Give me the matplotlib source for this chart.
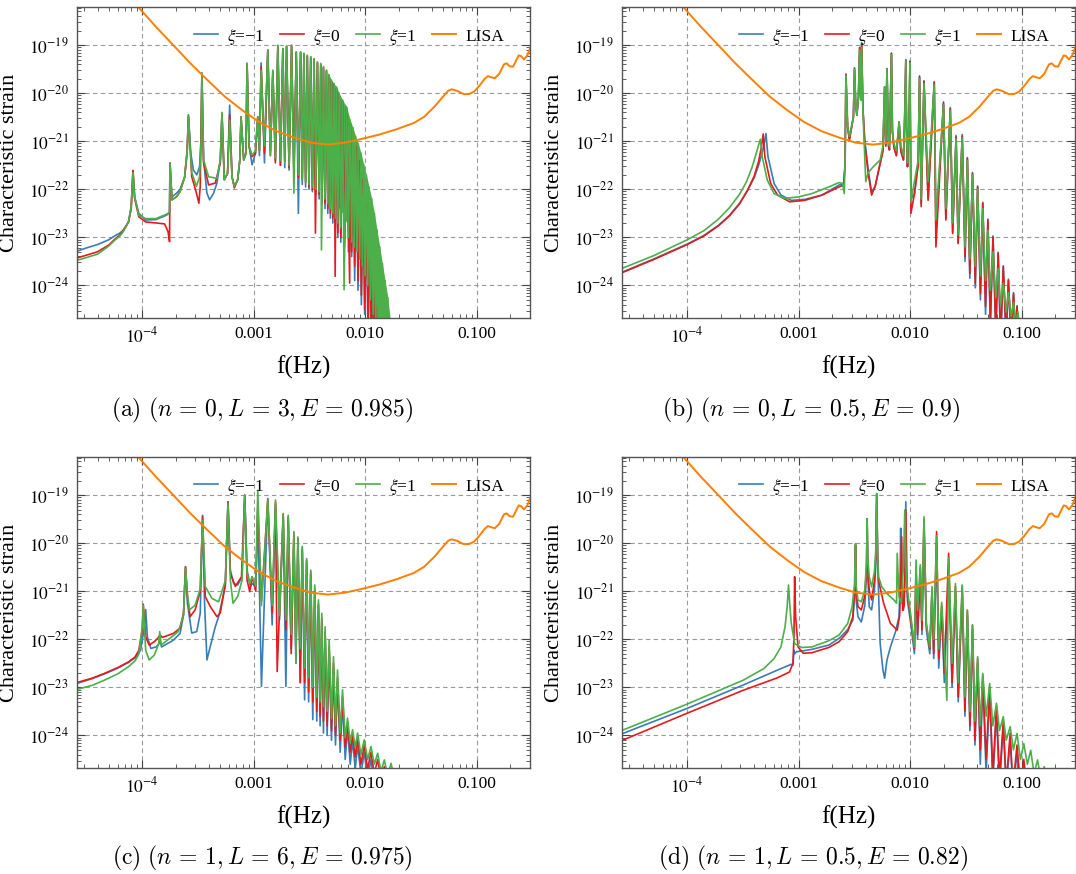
import numpy as np
import matplotlib.pyplot as plt
from matplotlib.ticker import FixedLocator, LogLocator, NullFormatter

plt.rcParams['font.family'] = ['Liberation Serif', 'DejaVu Serif']
plt.rcParams['mathtext.fontset'] = 'stix'

# all curve vertices are (log10 f [Hz], log10 h_c)

lisa = [(-4.10, -17.80), (-4.031, -18.22), (-3.877, -18.62), (-3.722, -19.00), (-3.568, -19.38),
        (-3.414, -19.73), (-3.260, -20.07), (-3.106, -20.35), (-2.952, -20.60), (-2.797, -20.79),
        (-2.643, -20.92), (-2.489, -21.03), (-2.335, -21.07), (-2.181, -21.03), (-2.027, -20.95),
        (-1.872, -20.86), (-1.718, -20.75), (-1.564, -20.62), (-1.471, -20.49), (-1.379, -20.28),
        (-1.302, -20.07), (-1.256, -19.95), (-1.225, -19.92), (-1.179, -19.95), (-1.117, -20.02),
        (-1.071, -20.02), (-1.025, -19.97), (-0.978, -19.85), (-0.932, -19.71), (-0.901, -19.645),
        (-0.870, -19.67), (-0.839, -19.69), (-0.799, -19.60), (-0.756, -19.40), (-0.731, -19.38),
        (-0.706, -19.44), (-0.675, -19.45), (-0.645, -19.31), (-0.624, -19.215), (-0.602, -19.23),
        (-0.577, -19.30), (-0.546, -19.21), (-0.52, -19.05)]

# ---------------- (a) n=0, L=3, E=0.985
a_blue = [(-4.60, -23.30), (-4.50, -23.22), (-4.401, -23.15), (-4.30, -23.05), (-4.247, -22.97),
          (-4.200, -22.91), (-4.170, -22.85), (-4.123, -22.68),
          (-4.099, -22.36), (-4.083, -21.61), (-4.068, -22.16), (-4.031, -22.50), (-3.969, -22.64),
          (-3.877, -22.63), (-3.784, -22.54), (-3.756, -22.49), (-3.751, -21.48), (-3.735, -22.16),
          (-3.691, -22.08), (-3.661, -22.00), (-3.62, -21.75), (-3.597, -21.2), (-3.586, -20.45),
          (-3.565, -21.25), (-3.541, -21.60), (-3.511, -21.70), (-3.486, -21.53), (-3.472, -20.9),
          (-3.465, -19.58), (-3.450, -21.39), (-3.420, -22.08), (-3.396, -22.22), (-3.360, -22.08),
          (-3.330, -21.87), (-3.300, -21.39), (-3.285, -20.45), (-3.264, -21.80), (-3.235, -21.67),
          (-3.216, -20.25), (-3.195, -21.74), (-3.174, -21.94), (-3.144, -21.80), (-3.125, -21.39),
          (-3.114, -20.50), (-3.090, -21.39), (-3.070, -21.25), (-3.060, -19.38), (-3.042, -21.11),
          (-3.015, -21.49), (-2.985, -21.25), (-2.964, -20.50), (-2.949, -21.3), (-2.934, -19.37),
          (-2.904, -21.45), (-2.874, -19.10), (-2.851, -21.2), (-2.829, -19.55), (-2.806, -21.4),
          (-2.784, -19.02), (-2.761, -21.5), (-2.739, -19.08), (-2.722, -21.55), (-2.706, -19.03),
          (-2.683, -21.6), (-2.661, -19.02), (-2.640, -21.7), (-2.619, -19.15), (-2.600, -22.50),
          (-2.580, -19.16), (-2.565, -21.9), (-2.550, -19.19), (-2.535, -21.95), (-2.520, -19.23),
          (-2.505, -22.0), (-2.489, -19.27), (-2.474, -22.05), (-2.459, -19.31), (-2.444, -22.1),
          (-2.429, -19.38), (-2.414, -22.2), (-2.399, -19.42), (-2.387, -22.3), (-2.375, -19.48),
          (-2.361, -22.4), (-2.348, -19.55), (-2.336, -22.5), (-2.324, -19.66), (-2.313, -22.6),
          (-2.303, -19.77), (-2.291, -22.7), (-2.279, -19.84), (-2.268, -22.8), (-2.258, -19.91),
          (-2.246, -23.0), (-2.234, -20.05), (-2.219, -23.1), (-2.204, -20.19), (-2.186, -23.2),
          (-2.168, -20.35), (-2.151, -23.3), (-2.135, -20.63), (-2.122, -23.4), (-2.110, -20.80),
          (-2.095, -23.9), (-2.080, -21.15), (-2.065, -24.1), (-2.050, -21.55), (-2.035, -24.4),
          (-2.020, -21.95), (-2.005, -24.6), (-1.990, -22.45), (-1.975, -25.0), (-1.960, -23.05),
          (-1.945, -25.1), (-1.930, -23.85), (-1.915, -25.2), (-1.900, -24.65), (-1.885, -25.3)]

a_red = [(-4.60, -23.44), (-4.50, -23.37), (-4.401, -23.30), (-4.30, -23.16), (-4.247, -23.04),
         (-4.200, -22.95), (-4.170, -22.86), (-4.123, -22.68),
         (-4.099, -22.40), (-4.083, -21.61), (-4.068, -22.19), (-4.031, -22.57), (-3.969, -22.68),
         (-3.877, -22.70), (-3.800, -22.72), (-3.769, -22.88), (-3.755, -23.09), (-3.751, -21.45),
         (-3.733, -22.22), (-3.690, -22.15), (-3.661, -22.05), (-3.62, -21.75), (-3.597, -21.2),
         (-3.586, -20.48), (-3.556, -21.74), (-3.514, -22.08), (-3.492, -22.29), (-3.480, -21.94),
         (-3.465, -19.62), (-3.450, -21.45), (-3.405, -21.91), (-3.345, -21.87), (-3.300, -21.45),
         (-3.285, -20.42), (-3.264, -21.80), (-3.235, -21.67), (-3.216, -20.45), (-3.195, -21.74),
         (-3.174, -21.97), (-3.144, -21.80), (-3.125, -21.39), (-3.114, -20.49), (-3.090, -21.39),
         (-3.070, -21.25), (-3.060, -19.40), (-3.042, -21.11), (-3.015, -21.32), (-2.985, -21.25),
         (-2.964, -20.49), (-2.949, -21.2), (-2.934, -19.45), (-2.904, -21.25), (-2.874, -19.12),
         (-2.851, -21.3), (-2.829, -19.55), (-2.806, -21.45), (-2.784, -19.02), (-2.761, -21.5),
         (-2.739, -19.08), (-2.722, -21.4), (-2.706, -19.03), (-2.683, -21.55), (-2.661, -19.01),
         (-2.640, -21.6), (-2.619, -19.15), (-2.600, -21.75), (-2.580, -19.15), (-2.565, -21.8),
         (-2.550, -19.18), (-2.535, -21.85), (-2.520, -19.22), (-2.505, -21.95), (-2.489, -19.25),
         (-2.474, -22.0), (-2.459, -19.29), (-2.447, -22.91), (-2.429, -19.36), (-2.414, -22.1),
         (-2.399, -19.40), (-2.387, -22.2), (-2.375, -19.46), (-2.361, -22.3), (-2.348, -19.53),
         (-2.336, -22.4), (-2.324, -19.64), (-2.313, -22.5), (-2.303, -19.75), (-2.291, -22.6),
         (-2.279, -19.82), (-2.270, -23.81), (-2.258, -19.89), (-2.246, -22.9), (-2.234, -20.02),
         (-2.219, -23.0), (-2.204, -20.16), (-2.186, -23.1), (-2.168, -20.30), (-2.140, -23.95),
         (-2.135, -20.60), (-2.122, -23.3), (-2.110, -20.80), (-2.095, -23.6), (-2.080, -21.10),
         (-2.065, -23.9), (-2.050, -21.40), (-2.035, -24.2), (-2.020, -21.80), (-2.005, -24.5),
         (-1.990, -22.30), (-1.975, -24.9), (-1.960, -22.90), (-1.945, -25.2), (-1.930, -23.60),
         (-1.915, -25.3), (-1.900, -24.40), (-1.885, -25.3)]

a_green = [(-4.60, -23.49), (-4.50, -23.42), (-4.401, -23.35), (-4.30, -23.18), (-4.247, -23.06),
           (-4.200, -22.97), (-4.170, -22.88), (-4.123, -22.68),
           (-4.099, -22.36), (-4.083, -21.66), (-4.068, -22.16), (-4.031, -22.54), (-3.969, -22.61),
           (-3.877, -22.61), (-3.784, -22.52), (-3.756, -22.48), (-3.751, -21.45), (-3.733, -22.22),
           (-3.690, -22.15), (-3.661, -22.05), (-3.62, -21.75), (-3.597, -21.2), (-3.586, -20.47),
           (-3.556, -21.65), (-3.514, -21.94), (-3.486, -21.74), (-3.472, -21.0), (-3.465, -19.58),
           (-3.450, -21.39), (-3.405, -21.74), (-3.330, -21.77), (-3.300, -21.39), (-3.285, -20.40),
           (-3.264, -21.80), (-3.235, -21.67), (-3.216, -20.56), (-3.195, -21.74), (-3.174, -21.94),
           (-3.144, -21.80), (-3.125, -21.39), (-3.114, -20.49), (-3.090, -21.39), (-3.070, -21.25),
           (-3.060, -19.38), (-3.042, -21.11), (-3.015, -21.29), (-2.985, -21.2), (-2.964, -20.49),
           (-2.949, -21.2), (-2.934, -19.52), (-2.904, -21.1), (-2.874, -19.10), (-2.851, -21.3),
           (-2.829, -19.52), (-2.806, -21.35), (-2.784, -19.00), (-2.761, -21.4), (-2.739, -19.07),
           (-2.722, -21.45), (-2.706, -19.02), (-2.683, -21.5), (-2.661, -19.00), (-2.640, -22.08),
           (-2.619, -19.14), (-2.600, -21.7), (-2.580, -19.14), (-2.565, -21.8), (-2.550, -19.17),
           (-2.535, -21.85), (-2.520, -19.21), (-2.505, -21.9), (-2.489, -19.24), (-2.474, -21.95),
           (-2.459, -19.28), (-2.444, -22.0), (-2.429, -19.35), (-2.414, -22.05), (-2.399, -19.38),
           (-2.393, -23.26), (-2.375, -19.45), (-2.361, -22.2), (-2.348, -19.52), (-2.336, -22.3),
           (-2.324, -19.62), (-2.313, -22.4), (-2.303, -19.73), (-2.291, -22.5), (-2.279, -19.80),
           (-2.268, -22.6), (-2.258, -19.87), (-2.246, -22.7), (-2.234, -20.00), (-2.219, -22.8),
           (-2.204, -20.14), (-2.190, -24.09), (-2.168, -20.28), (-2.151, -23.0), (-2.135, -20.56),
           (-2.122, -23.1), (-2.110, -20.72), (-2.098, -23.2), (-2.086, -20.90), (-2.074, -23.3),
           (-2.062, -21.05), (-2.050, -23.45), (-2.038, -21.25), (-2.026, -23.6), (-2.014, -21.48),
           (-2.002, -23.8), (-1.990, -21.70), (-1.978, -24.0), (-1.966, -21.95), (-1.954, -24.3),
           (-1.942, -22.20), (-1.930, -24.6), (-1.918, -22.50), (-1.906, -24.9), (-1.894, -22.85),
           (-1.882, -25.1), (-1.870, -23.20), (-1.858, -25.2), (-1.846, -23.55), (-1.834, -25.3),
           (-1.822, -23.90), (-1.810, -25.3), (-1.798, -24.25), (-1.788, -25.3), (-1.776, -24.70),
           (-1.765, -25.3)]

# solid green band of panel (a): log10 f, upper and lower edge
a_band_f = [-2.336, -2.324, -2.303, -2.279, -2.258, -2.234, -2.204, -2.168, -2.135, -2.110, -2.086,
            -2.062, -2.038, -2.014, -1.990, -1.966, -1.942, -1.918, -1.894, -1.870, -1.846, -1.822,
            -1.798, -1.776]
a_band_hi = [-19.56, -19.62, -19.73, -19.80, -19.87, -20.00, -20.14, -20.28, -20.56, -20.72, -20.90,
             -21.05, -21.25, -21.48, -21.70, -21.95, -22.20, -22.50, -22.85, -23.20, -23.55, -23.90,
             -24.25, -24.70]
a_band_lo = [-21.9, -22.0, -22.1, -22.2, -22.3, -22.4, -22.5, -22.7, -22.85, -22.95, -23.1,
             -23.25, -23.45, -23.65, -23.85, -24.1, -24.4, -24.7, -25.0, -25.3, -25.3, -25.3,
             -25.3, -25.3]

# ---------------- (b) n=0, L=0.5, E=0.9
b_blue = [(-4.60, -23.74), (-4.30, -23.45), (-4.00, -23.14), (-3.85, -22.96), (-3.72, -22.75),
          (-3.62, -22.54), (-3.53, -22.29), (-3.46, -22.03), (-3.40, -21.76), (-3.36, -21.50),
          (-3.33, -21.25), (-3.310, -21.05), (-3.294, -20.84),
          (-3.276, -21.32), (-3.221, -21.88), (-3.160, -22.12), (-3.067, -22.23), (-2.945, -22.21),
          (-2.791, -22.12), (-2.638, -21.91), (-2.598, -21.88), (-2.585, -21.5), (-2.577, -19.60),
          (-2.562, -20.7), (-2.546, -20.95), (-2.51, -20.5), (-2.500, -19.47), (-2.490, -20.2),
          (-2.479, -20.46), (-2.465, -20.1), (-2.454, -19.05), (-2.446, -20.0), (-2.442, -20.14),
          (-2.436, -18.95), (-2.425, -20.3), (-2.408, -20.98), (-2.377, -21.60), (-2.347, -22.05),
          (-2.316, -21.95), (-2.270, -21.46), (-2.245, -21.2), (-2.230, -19.87), (-2.220, -21.1),
          (-2.209, -19.49), (-2.195, -21.1), (-2.187, -21.18), (-2.169, -19.17), (-2.160, -20.8),
          (-2.147, -21.12), (-2.125, -21.3), (-2.10, -20.6), (-2.085, -21.2), (-2.061, -21.39),
          (-2.050, -20.5), (-2.040, -19.31), (-2.032, -21.0), (-2.025, -21.53), (-2.010, -20.5),
          (-2.003, -19.33), (-1.994, -22.20), (-1.963, -22.1), (-1.930, -21.5), (-1.917, -19.64),
          (-1.902, -22.30), (-1.877, -19.74), (-1.840, -22.20), (-1.785, -19.76), (-1.770, -22.9),
          (-1.702, -20.18), (-1.681, -22.60), (-1.641, -20.30), (-1.620, -22.90), (-1.589, -20.88),
          (-1.571, -23.10), (-1.534, -20.86), (-1.509, -23.50), (-1.488, -21.34), (-1.466, -23.85),
          (-1.442, -21.65), (-1.417, -24.05), (-1.396, -21.93), (-1.371, -24.3), (-1.350, -22.27),
          (-1.325, -24.6), (-1.304, -22.62), (-1.282, -24.9), (-1.258, -22.97), (-1.233, -25.1),
          (-1.212, -23.31), (-1.19, -25.2), (-1.166, -23.59), (-1.14, -25.2), (-1.120, -23.87),
          (-1.095, -25.2), (-1.074, -24.15), (-1.055, -25.2), (-1.043, -24.42), (-1.025, -25.2)]

b_red = [(-4.60, -23.75), (-4.30, -23.46), (-4.00, -23.15), (-3.85, -22.97), (-3.72, -22.76),
         (-3.62, -22.55), (-3.53, -22.30), (-3.46, -22.02), (-3.40, -21.73), (-3.36, -21.42),
         (-3.335, -21.12), (-3.319, -20.85),
         (-3.304, -21.32), (-3.252, -21.88), (-3.190, -22.12), (-3.083, -22.26), (-2.945, -22.23),
         (-2.791, -22.12), (-2.638, -21.95), (-2.598, -21.91), (-2.585, -21.5), (-2.577, -19.62),
         (-2.562, -20.7), (-2.546, -20.98), (-2.51, -20.5), (-2.500, -19.49), (-2.490, -20.2),
         (-2.479, -20.46), (-2.465, -20.1), (-2.454, -19.05), (-2.446, -20.0), (-2.442, -20.14),
         (-2.436, -18.97), (-2.425, -20.3), (-2.408, -21.05), (-2.377, -21.67), (-2.347, -22.12),
         (-2.316, -21.95), (-2.270, -21.46), (-2.245, -21.2), (-2.230, -19.87), (-2.220, -21.1),
         (-2.209, -19.49), (-2.195, -21.1), (-2.187, -21.18), (-2.169, -19.17), (-2.160, -20.8),
         (-2.147, -21.12), (-2.125, -21.3), (-2.10, -20.6), (-2.085, -21.2), (-2.061, -21.39),
         (-2.050, -20.5), (-2.040, -19.31), (-2.032, -21.0), (-2.025, -21.53), (-2.010, -20.5),
         (-2.003, -19.35), (-1.994, -22.50), (-1.963, -22.1), (-1.930, -21.5), (-1.917, -19.66),
         (-1.902, -22.36), (-1.877, -19.76), (-1.840, -22.23), (-1.785, -19.78), (-1.770, -23.20),
         (-1.702, -20.21), (-1.681, -22.64), (-1.641, -20.32), (-1.620, -22.92), (-1.589, -20.91),
         (-1.571, -23.13), (-1.534, -20.89), (-1.509, -23.40), (-1.488, -21.36), (-1.466, -23.75),
         (-1.442, -21.67), (-1.417, -23.96), (-1.396, -21.95), (-1.371, -24.17), (-1.350, -22.29),
         (-1.325, -24.44), (-1.304, -22.64), (-1.282, -24.72), (-1.258, -22.99), (-1.233, -24.93),
         (-1.212, -23.33), (-1.19, -25.1), (-1.166, -23.61), (-1.14, -25.1), (-1.120, -23.89),
         (-1.095, -25.1), (-1.074, -24.17), (-1.055, -25.1), (-1.043, -24.44), (-1.025, -25.1)]

b_green = [(-4.60, -23.66), (-4.30, -23.38), (-4.00, -23.05), (-3.85, -22.86), (-3.72, -22.62),
           (-3.62, -22.38), (-3.53, -22.10), (-3.47, -21.85), (-3.42, -21.55), (-3.385, -21.28),
           (-3.360, -21.08), (-3.344, -20.96), (-3.328, -21.32),
           (-3.282, -21.81), (-3.221, -22.09), (-3.129, -22.19), (-3.006, -22.16), (-2.883, -22.09),
           (-2.730, -21.95), (-2.638, -21.86), (-2.607, -21.88), (-2.592, -22.09), (-2.583, -21.3),
           (-2.577, -19.64), (-2.562, -20.7), (-2.546, -20.90), (-2.51, -20.5), (-2.500, -19.50),
           (-2.490, -20.2), (-2.479, -20.46), (-2.465, -20.1), (-2.454, -19.10), (-2.446, -20.0),
           (-2.442, -20.14), (-2.436, -19.05), (-2.425, -20.3), (-2.417, -20.84), (-2.399, -21.84),
           (-2.377, -21.65), (-2.331, -21.53), (-2.270, -21.39), (-2.245, -21.1), (-2.230, -19.87),
           (-2.220, -21.0), (-2.209, -19.49), (-2.195, -21.0), (-2.187, -21.1), (-2.169, -19.20),
           (-2.160, -20.8), (-2.147, -21.05), (-2.125, -21.2), (-2.10, -20.6), (-2.085, -21.1),
           (-2.061, -21.30), (-2.050, -20.5), (-2.040, -19.33), (-2.032, -21.0), (-2.025, -21.45),
           (-2.010, -20.5), (-2.003, -19.37), (-1.994, -22.26), (-1.963, -21.84), (-1.930, -21.4),
           (-1.917, -19.70), (-1.902, -22.20), (-1.877, -19.80), (-1.840, -21.84), (-1.785, -19.82),
           (-1.770, -22.64), (-1.702, -20.25), (-1.681, -22.40), (-1.641, -20.36), (-1.620, -22.70),
           (-1.589, -20.95), (-1.571, -22.95), (-1.534, -20.93), (-1.509, -23.20), (-1.488, -21.40),
           (-1.466, -23.45), (-1.442, -21.70), (-1.417, -23.60), (-1.396, -22.0), (-1.371, -23.80),
           (-1.350, -22.40), (-1.325, -23.90), (-1.304, -22.85), (-1.282, -24.10), (-1.258, -23.30),
           (-1.233, -24.25), (-1.212, -23.65), (-1.19, -24.40), (-1.166, -23.95), (-1.14, -24.55),
           (-1.120, -24.15), (-1.095, -24.65), (-1.074, -24.35), (-1.055, -24.80), (-1.035, -24.55),
           (-1.015, -24.95), (-0.995, -24.75), (-0.975, -25.1)]

# ---------------- (c) n=1, L=6, E=0.975
c_blue = [(-4.60, -22.93), (-4.45, -22.82), (-4.339, -22.72), (-4.22, -22.60), (-4.123, -22.48),
          (-4.060, -22.38), (-4.015, -22.23), (-3.985, -21.81),
          (-3.969, -21.38), (-3.954, -21.95), (-3.923, -22.19), (-3.877, -22.16), (-3.852, -22.10),
          (-3.840, -22.02), (-3.827, -22.16), (-3.722, -22.02), (-3.661, -21.88), (-3.630, -21.50),
          (-3.612, -20.49), (-3.595, -21.25), (-3.556, -21.87), (-3.511, -21.84), (-3.480, -21.46),
          (-3.459, -19.42), (-3.441, -21.25), (-3.420, -22.43), (-3.390, -22.15), (-3.345, -21.74),
          (-3.315, -21.53), (-3.255, -20.90), (-3.231, -19.14), (-3.210, -20.56), (-3.180, -20.84),
          (-3.144, -20.87), (-3.105, -20.70), (-3.081, -19.0), (-3.060, -20.56), (-3.030, -20.90),
          (-3.015, -20.84), (-2.982, -20.9), (-2.964, -19.3), (-2.931, -22.98), (-2.874, -19.07),
          (-2.835, -21.7), (-2.805, -19.2), (-2.769, -21.6), (-2.736, -19.45), (-2.712, -22.98),
          (-2.691, -19.5), (-2.664, -22.2), (-2.640, -19.85), (-2.622, -22.5), (-2.604, -19.95),
          (-2.583, -22.9), (-2.565, -20.15), (-2.544, -23.26), (-2.526, -20.4), (-2.508, -23.3),
          (-2.489, -20.65), (-2.471, -23.67), (-2.453, -21.0), (-2.435, -23.7), (-2.420, -21.3),
          (-2.405, -23.8), (-2.390, -21.6), (-2.375, -23.95), (-2.360, -21.9), (-2.342, -24.0),
          (-2.324, -22.2), (-2.303, -24.1), (-2.285, -22.6), (-2.267, -24.2), (-2.249, -22.9),
          (-2.225, -24.35), (-2.204, -23.3), (-2.180, -24.5), (-2.159, -23.85), (-2.135, -24.6),
          (-2.114, -24.1), (-2.090, -24.7), (-2.069, -24.2), (-2.039, -24.8), (-2.009, -24.35),
          (-1.979, -24.9), (-1.949, -24.5), (-1.919, -25.0), (-1.889, -24.7), (-1.86, -25.2)]

c_red = [(-4.60, -22.91), (-4.45, -22.81), (-4.339, -22.71), (-4.22, -22.59), (-4.123, -22.47),
         (-4.065, -22.37), (-4.031, -22.23), (-4.000, -21.81),
         (-3.991, -21.27), (-3.969, -21.95), (-3.938, -22.12), (-3.892, -22.05), (-3.861, -21.98),
         (-3.840, -21.91), (-3.820, -21.96), (-3.722, -21.88), (-3.661, -21.77), (-3.630, -21.46),
         (-3.612, -20.49), (-3.595, -21.11), (-3.571, -21.53), (-3.526, -21.39), (-3.480, -21.0),
         (-3.459, -19.45), (-3.435, -21.11), (-3.390, -21.32), (-3.330, -21.53), (-3.300, -21.45),
         (-3.255, -20.84), (-3.231, -19.14), (-3.210, -20.63), (-3.165, -20.90), (-3.110, -20.70),
         (-3.081, -19.0), (-3.060, -20.77), (-3.036, -21.01), (-3.015, -20.70), (-2.982, -21.0),
         (-2.964, -19.2), (-2.931, -21.2), (-2.874, -19.10), (-2.835, -21.45), (-2.805, -19.15),
         (-2.790, -22.67), (-2.736, -19.40), (-2.712, -21.8), (-2.691, -19.45), (-2.664, -22.3),
         (-2.640, -19.80), (-2.622, -22.3), (-2.604, -19.90), (-2.583, -22.9), (-2.565, -20.10),
         (-2.544, -22.9), (-2.526, -20.35), (-2.508, -23.1), (-2.489, -20.60), (-2.471, -23.3),
         (-2.453, -20.95), (-2.435, -23.5), (-2.420, -21.25), (-2.405, -23.6), (-2.390, -21.55),
         (-2.375, -23.7), (-2.360, -21.85), (-2.342, -23.8), (-2.324, -22.15), (-2.303, -23.9),
         (-2.285, -22.5), (-2.267, -24.0), (-2.249, -22.8), (-2.225, -24.1), (-2.204, -23.2),
         (-2.180, -24.25), (-2.159, -23.75), (-2.135, -24.35), (-2.114, -24.0), (-2.090, -24.45),
         (-2.069, -24.05), (-2.039, -24.6), (-2.009, -24.2), (-1.979, -24.7), (-1.949, -24.35),
         (-1.919, -24.8), (-1.889, -24.5), (-1.859, -24.9), (-1.829, -24.65), (-1.80, -25.1)]

c_green = [(-4.60, -23.05), (-4.45, -22.96), (-4.339, -22.85), (-4.22, -22.72), (-4.123, -22.57),
           (-4.065, -22.45), (-4.031, -22.31), (-4.000, -21.74),
           (-3.991, -21.29), (-3.969, -22.23), (-3.938, -22.43), (-3.892, -22.33), (-3.852, -22.09),
           (-3.843, -21.84), (-3.830, -22.12), (-3.753, -21.98), (-3.676, -21.84), (-3.630, -21.50),
           (-3.612, -20.52), (-3.595, -21.05), (-3.577, -21.39), (-3.526, -21.29), (-3.480, -20.95),
           (-3.459, -19.52), (-3.435, -20.90), (-3.375, -21.15), (-3.315, -21.22), (-3.255, -20.78),
           (-3.231, -19.17), (-3.210, -20.77), (-3.186, -21.25), (-3.144, -21.11), (-3.105, -20.77),
           (-3.081, -19.0), (-3.060, -20.63), (-3.036, -20.84), (-3.015, -20.70), (-2.982, -20.9),
           (-2.964, -18.90), (-2.931, -21.3), (-2.874, -19.10), (-2.835, -21.3), (-2.805, -19.10),
           (-2.769, -21.5), (-2.736, -19.38), (-2.712, -21.6), (-2.691, -19.42), (-2.664, -21.9),
           (-2.640, -19.76), (-2.622, -22.5), (-2.604, -19.87), (-2.583, -22.2), (-2.565, -20.07),
           (-2.544, -22.6), (-2.526, -20.32), (-2.508, -22.8), (-2.489, -20.56), (-2.471, -23.0),
           (-2.453, -20.87), (-2.435, -23.2), (-2.420, -21.18), (-2.405, -23.3), (-2.390, -21.46),
           (-2.375, -23.4), (-2.360, -21.74), (-2.342, -23.5), (-2.324, -22.01), (-2.303, -23.65),
           (-2.285, -22.36), (-2.267, -23.8), (-2.249, -22.64), (-2.225, -23.95), (-2.204, -23.05),
           (-2.180, -24.05), (-2.159, -23.64), (-2.135, -24.15), (-2.114, -23.88), (-2.090, -24.25),
           (-2.069, -23.95), (-2.039, -24.4), (-2.009, -24.09), (-1.979, -24.5), (-1.949, -24.23),
           (-1.919, -24.6), (-1.889, -24.37), (-1.859, -24.75), (-1.829, -24.51), (-1.799, -24.85),
           (-1.769, -24.58), (-1.739, -24.9), (-1.709, -24.71), (-1.68, -25.1)]

# ---------------- (d) n=1, L=0.5, E=0.82
d_blue = [(-4.60, -23.98), (-4.003, -23.44), (-3.497, -22.95), (-3.190, -22.64), (-3.067, -22.52),
          (-3.052, -22.54), (-3.043, -22.23), (-3.035, -22.30), (-3.021, -22.26), (-2.960, -22.24),
          (-2.883, -22.21), (-2.730, -22.12), (-2.638, -21.98), (-2.561, -21.80), (-2.515, -21.60),
          (-2.497, -21.0), (-2.491, -20.05), (-2.485, -21.2), (-2.469, -21.53), (-2.439, -21.64),
          (-2.408, -21.3), (-2.392, -20.6), (-2.387, -19.50), (-2.381, -20.7), (-2.368, -21.32),
          (-2.347, -21.39), (-2.322, -20.98), (-2.310, -20.5), (-2.301, -19.0), (-2.293, -20.3),
          (-2.285, -20.98), (-2.270, -22.09), (-2.245, -22.64), (-2.230, -22.81), (-2.209, -22.43),
          (-2.178, -22.16), (-2.132, -21.84), (-2.101, -21.53), (-2.092, -20.9), (-2.086, -19.69),
          (-2.080, -20.9), (-2.077, -21.18), (-2.061, -21.39), (-2.048, -20.7), (-2.040, -19.14),
          (-2.032, -20.7), (-2.025, -21.2), (-1.994, -21.7), (-1.963, -22.3), (-1.948, -20.5),
          (-1.935, -22.0), (-1.910, -20.5), (-1.895, -21.9), (-1.877, -19.6), (-1.856, -21.8),
          (-1.825, -22.3), (-1.805, -21.0), (-1.790, -22.4), (-1.764, -20.0), (-1.745, -22.6),
          (-1.718, -21.4), (-1.695, -22.9), (-1.656, -20.5), (-1.625, -23.0), (-1.595, -21.0),
          (-1.570, -23.3), (-1.534, -21.0), (-1.510, -23.6), (-1.488, -21.5), (-1.465, -23.9),
          (-1.442, -21.8), (-1.420, -24.2), (-1.396, -22.5), (-1.372, -24.6), (-1.350, -22.8),
          (-1.320, -24.8), (-1.288, -23.1), (-1.260, -25.0), (-1.227, -23.5), (-1.200, -25.1),
          (-1.166, -23.8), (-1.140, -25.1), (-1.104, -24.1), (-1.080, -25.1), (-1.043, -24.4),
          (-1.010, -25.1)]

d_red = [(-4.60, -24.12), (-4.003, -23.54), (-3.497, -23.06), (-3.190, -22.80), (-3.083, -22.68),
         (-3.052, -22.50), (-3.043, -21.95), (-3.037, -20.70), (-3.028, -21.53), (-3.006, -22.16),
         (-2.960, -22.29), (-2.883, -22.28), (-2.730, -22.17), (-2.638, -22.05), (-2.561, -21.84),
         (-2.515, -21.53), (-2.497, -20.9), (-2.491, -20.04), (-2.485, -21.0), (-2.469, -21.32),
         (-2.439, -21.39), (-2.408, -21.1), (-2.392, -20.5), (-2.387, -19.49), (-2.381, -20.5),
         (-2.368, -20.98), (-2.347, -21.18), (-2.322, -20.8), (-2.310, -20.3), (-2.301, -18.97),
         (-2.293, -20.2), (-2.285, -20.77), (-2.239, -21.25), (-2.178, -21.67), (-2.117, -21.81),
         (-2.095, -21.5), (-2.077, -19.87), (-2.068, -21.4), (-2.055, -21.3), (-2.047, -20.6),
         (-2.040, -19.31), (-2.032, -20.6), (-2.025, -21.1), (-1.994, -21.6), (-1.963, -22.2),
         (-1.948, -20.6), (-1.935, -21.9), (-1.910, -20.6), (-1.895, -21.8), (-1.877, -19.5),
         (-1.856, -21.7), (-1.825, -22.2), (-1.805, -21.0), (-1.790, -22.3), (-1.764, -19.76),
         (-1.745, -22.4), (-1.718, -21.3), (-1.695, -22.7), (-1.656, -20.21), (-1.625, -22.9),
         (-1.595, -20.9), (-1.570, -23.2), (-1.534, -20.9), (-1.510, -23.5), (-1.488, -21.4),
         (-1.465, -23.8), (-1.442, -21.7), (-1.420, -24.1), (-1.396, -22.4), (-1.372, -24.3),
         (-1.350, -22.75), (-1.320, -24.5), (-1.288, -23.0), (-1.260, -24.8), (-1.227, -23.4),
         (-1.200, -24.9), (-1.166, -23.7), (-1.140, -25.0), (-1.104, -23.95), (-1.080, -25.1),
         (-1.043, -24.2), (-1.010, -25.1), (-0.982, -24.5), (-0.950, -25.2)]

d_green = [(-4.60, -23.91), (-4.003, -23.35), (-3.497, -22.85), (-3.313, -22.61), (-3.221, -22.40),
           (-3.160, -22.16), (-3.123, -21.74), (-3.104, -21.32), (-3.092, -20.87), (-3.080, -21.3),
           (-3.067, -21.67), (-3.037, -22.09), (-2.975, -22.17), (-2.883, -22.16), (-2.730, -22.03),
           (-2.638, -21.91), (-2.561, -21.67), (-2.521, -21.32), (-2.500, -20.84), (-2.491, -20.01),
           (-2.485, -20.9), (-2.469, -21.18), (-2.439, -21.22), (-2.408, -20.98), (-2.392, -20.4),
           (-2.387, -19.49), (-2.381, -20.3), (-2.368, -20.70), (-2.347, -20.91), (-2.322, -20.6),
           (-2.310, -20.2), (-2.301, -18.97), (-2.293, -20.2), (-2.285, -20.70), (-2.255, -20.91),
           (-2.209, -21.05), (-2.147, -21.18), (-2.123, -21.25), (-2.117, -20.21), (-2.101, -21.12),
           (-2.080, -21.25), (-2.062, -20.5), (-2.049, -19.31), (-2.037, -20.6), (-2.025, -20.98),
           (-1.994, -21.53), (-1.963, -22.16), (-1.948, -20.35), (-1.935, -21.4), (-1.910, -20.45),
           (-1.895, -21.6), (-1.877, -19.45), (-1.856, -21.67), (-1.825, -22.16), (-1.805, -20.9),
           (-1.790, -22.0), (-1.764, -19.85), (-1.745, -22.2), (-1.718, -21.23), (-1.690, -22.4),
           (-1.672, -23.27), (-1.656, -20.3), (-1.625, -22.5), (-1.595, -20.84), (-1.570, -22.9),
           (-1.534, -20.87), (-1.510, -23.2), (-1.488, -21.39), (-1.465, -23.5), (-1.442, -21.71),
           (-1.420, -23.7), (-1.396, -22.36), (-1.372, -23.8), (-1.350, -22.71), (-1.320, -23.6),
           (-1.288, -22.92), (-1.260, -23.8), (-1.227, -23.33), (-1.200, -23.9), (-1.166, -23.61),
           (-1.140, -24.1), (-1.104, -23.82), (-1.075, -24.3), (-1.043, -23.96), (-1.012, -24.5),
           (-0.982, -24.17), (-0.950, -24.6), (-0.920, -24.31), (-0.890, -24.8), (-0.859, -24.51),
           (-0.830, -24.9), (-0.798, -24.65), (-0.77, -25.1)]

eq = r'\,=\,'
panels = [
    ([a_blue, a_red, a_green], r'$\mathrm{(a)}\ (n%s0, L%s3, E%s0.985)$' % (eq, eq, eq)),
    ([b_blue, b_red, b_green], r'$\mathrm{(b)}\ (n%s0, L%s0.5, E%s0.9)$' % (eq, eq, eq)),
    ([c_blue, c_red, c_green], r'$\mathrm{(c)}\ (n%s1, L%s6, E%s0.975)$' % (eq, eq, eq)),
    ([d_blue, d_red, d_green], r'$\mathrm{(d)}\ (n%s1, L%s0.5, E%s0.82)$' % (eq, eq, eq)),
]
labels = ['$\\xi$=\u22121', '$\\xi$=0', '$\\xi$=1', 'LISA']
colors = ['#377eb8', '#e41a1c', '#4daf4a', '#ff7f00']

fig = plt.figure(figsize=(10.76, 8.74), dpi=100)
W, H = 1076, 874
boxes = [(77, 7), (622, 7), (77, 457), (622, 457)]     # axes top-left corner, px
caps = [(262, 410), (811, 410), (262, 858), (813, 858)]
aw, ah = 453, 311


def to_lin(pts):
    arr = np.array(pts)
    return 10 ** arr[:, 0], 10 ** arr[:, 1]


for k, ((curves, cap), (x0, y0)) in enumerate(zip(panels, boxes)):
    ax = fig.add_axes([x0 / W, 1 - (y0 + ah) / H, aw / W, ah / H])
    ax.set_xscale('log')
    ax.set_yscale('log')

    hs = []
    for pts, c in zip(curves, colors[:3]):
        f, h = to_lin(pts)
        ln, = ax.plot(f, h, color=c, lw=1.2)
        hs.append(ln)
    if k == 0:
        ax.fill_between(10 ** np.array(a_band_f), 10 ** np.array(a_band_lo),
                        10 ** np.array(a_band_hi), color=colors[2], lw=0)
    f, h = to_lin(lisa)
    ln, = ax.plot(f, h, color=colors[3], lw=1.4)
    hs.append(ln)

    ax.set_xlim(2.6e-5, 0.3)
    ax.set_ylim(2.1e-25, 6.2e-19)

    ax.xaxis.set_major_locator(FixedLocator([1e-4, 1e-3, 1e-2, 1e-1]))
    ax.set_xticklabels(['$10^{-4}$', '0.001', '0.010', '0.100'])
    ax.xaxis.set_minor_locator(LogLocator(base=10, subs=np.arange(2, 10), numticks=20))
    ax.xaxis.set_minor_formatter(NullFormatter())
    yt = [10.0 ** e for e in range(-24, -18)]
    ax.yaxis.set_major_locator(FixedLocator(yt))
    ax.set_yticklabels(['$10^{%d}$' % e for e in range(-24, -18)])
    ax.yaxis.set_minor_locator(LogLocator(base=10, subs=np.arange(2, 10), numticks=20))
    ax.yaxis.set_minor_formatter(NullFormatter())

    ax.tick_params(which='both', direction='in', top=True, right=True, color='#444444')
    ax.tick_params(which='major', length=6, width=0.8, labelsize=12.5, pad=6)
    ax.tick_params(which='minor', length=3, width=0.6)
    for s in ax.spines.values():
        s.set_color('#555555')
        s.set_linewidth(1.0)

    ax.grid(True, which='major', ls=(0, (4, 3)), color='#999999', lw=0.8)

    ax.set_xlabel('f(Hz)', fontsize=18)
    ax.xaxis.set_label_coords(0.5, -0.12)
    ax.set_ylabel('Characteristic strain', fontsize=16)
    ax.yaxis.set_label_coords(-0.128, 0.5)

    ax.legend(hs, labels, loc='center', bbox_to_anchor=(0.60, 0.905), ncol=4, frameon=False,
              fontsize=12.5, handlelength=1.4, handletextpad=0.5, columnspacing=0.9)

    fig.text(caps[k][0] / W, 1 - caps[k][1] / H, cap, ha='center', va='center',
             fontsize=17, math_fontfamily='cm')

fig.savefig('out.png', dpi=100)
